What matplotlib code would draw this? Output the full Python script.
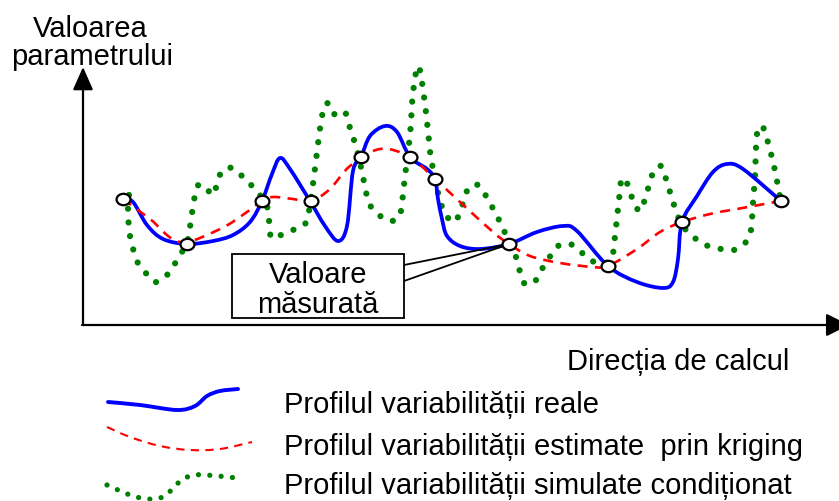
import numpy as np
import matplotlib
matplotlib.use("Agg")
import matplotlib.pyplot as plt
from matplotlib.path import Path
from matplotlib.patches import PathPatch, Rectangle
from matplotlib.markers import MarkerStyle
from matplotlib.transforms import Affine2D

plt.rcParams['font.family'] = ['Liberation Sans', 'DejaVu Sans']

# ---- data (diagram coordinates) ----
# measured values (white circles)
meas_x = [123, 187, 262, 311, 361, 410, 435, 509, 608, 682, 781]
meas_y = [200, 245, 202, 202, 158, 158, 180, 245, 267, 223, 202]

# real variability profile (blue)
real_x = [123, 133, 147, 163, 187, 213, 233, 250, 262, 272, 280, 290, 310, 325, 338,
          347, 353, 361, 370, 385, 397, 410, 427, 435, 438, 442, 447, 460, 480, 509,
          537, 563, 577, 608, 637, 663, 673, 678, 682, 697, 713, 727, 743, 781]
real_y = [200, 203, 226, 240, 245, 242, 236, 223, 202, 175, 159, 170, 202, 227, 242,
          227, 172, 158, 137, 127, 133, 158, 170, 180, 200, 220, 237, 247, 250, 245,
          233, 227, 232, 267, 283, 289, 283, 260, 223, 197, 173, 165, 170, 202]

# kriging estimate (red dashed)
krig_x = [123, 150, 180, 220, 247, 262, 273, 293, 311, 330, 350, 380, 410, 435, 460,
          493, 509, 530, 560, 593, 608, 637, 660, 682, 710, 737, 781]
krig_y = [200, 220, 243, 230, 213, 202, 198, 200, 202, 190, 167, 150, 158, 180, 203,
          233, 245, 257, 264, 268, 267, 250, 233, 223, 215, 210, 202]

# conditional simulation (green dotted)
sim_x = [129, 128, 130, 137, 145, 155, 166, 174, 182, 188, 192, 197, 204, 213, 217, 222,
         232, 243, 253, 262, 268, 271, 281, 293, 305, 309, 313, 318, 322, 327, 333, 344,
         348, 357, 363, 369, 378, 389, 399, 402, 405, 410, 413, 418, 423, 428, 431, 439,
         444, 452, 459, 468, 478, 486, 499, 510, 516, 524, 535, 542, 549, 558, 570, 581,
         592, 605, 612, 614, 617, 620, 622, 629, 633, 640, 645, 653, 661, 666, 674, 680,
         686, 696, 708, 721, 734, 746, 751, 753, 755, 757, 762, 767, 774, 779, 781]
sim_y = [196, 210, 237, 262, 273, 283, 277, 266, 253, 240, 214, 188, 187, 196, 185, 172,
         169, 178, 188, 199, 211, 238, 236, 231, 225, 212, 185, 145, 117, 104, 115, 112,
         123, 151, 178, 204, 215, 222, 218, 204, 177, 136, 94, 67, 90, 132, 159, 198,
         212, 223, 216, 190, 186, 197, 221, 245, 258, 284, 282, 270, 259, 247, 245, 253,
         262, 264, 259, 246, 219, 192, 179, 188, 202, 212, 200, 174, 167, 180, 206, 222,
         231, 240, 247, 250, 251, 243, 231, 204, 176, 135, 127, 140, 167, 193, 202]

# legend samples
leg_real_x = [108, 140, 177, 195, 207, 220, 238]
leg_real_y = [403, 406, 411, 407, 397, 392, 390]
leg_krig_x = [107, 130, 160, 190, 220, 252]
leg_krig_y = [428, 438, 447, 451, 450, 443]
leg_sim_x = [107, 118, 130, 141, 153, 165, 174, 183, 194, 206, 217, 229, 242]
leg_sim_y = [486, 491, 496, 499, 500, 497, 488, 480, 476, 476, 477, 478, 480]

legend_labels = ["Profilul variabilității reale",
                 "Profilul variabilității estimate  prin kriging",
                 "Profilul variabilității simulate condiționat"]
y_label = ["Valoarea", "parametrului"]
x_label = "Direcția de calcul"
callout = ["Valoare", "măsurată"]

BLUE = "#0000FF"
RED = "#FF0000"
GREEN = "#008000"


def smooth_path(xs, ys):
    pts = np.column_stack([xs, ys]).astype(float)
    n = len(pts)
    verts = [pts[0]]
    codes = [Path.MOVETO]
    for i in range(n - 1):
        p0 = pts[max(i - 1, 0)]
        p1 = pts[i]
        p2 = pts[i + 1]
        p3 = pts[min(i + 2, n - 1)]
        c1 = p1 + (p2 - p0) / 6.0
        c2 = p2 - (p3 - p1) / 6.0
        verts += [c1, c2, p2]
        codes += [Path.CURVE4] * 3
    return Path(verts, codes)


def curve(ax, xs, ys, color, lw, ls, z, cap='butt'):
    patch = PathPatch(smooth_path(xs, ys), fill=False, edgecolor=color,
                      linewidth=lw, linestyle=ls, zorder=z, capstyle=cap,
                      joinstyle='round')
    ax.add_patch(patch)


fig = plt.figure(figsize=(8.39, 5.02), dpi=100)
ax = fig.add_axes([0, 0, 1, 1])
ax.set_xlim(0, 839)
ax.set_ylim(502, 0)
ax.axis('off')

# axes arrows
ax.annotate('', xy=(83, 68), xytext=(83, 326),
            arrowprops=dict(arrowstyle='-|>,head_length=1.4,head_width=0.62',
                            lw=1.6, color='black', shrinkA=0, shrinkB=0))
ax.annotate('', xy=(849, 326), xytext=(82, 326),
            arrowprops=dict(arrowstyle='-|>,head_length=1.4,head_width=0.7',
                            lw=1.6, color='black', shrinkA=0, shrinkB=0),
            annotation_clip=False)

# curves
curve(ax, sim_x, sim_y, GREEN, 4.5, (0, (0.001, 2.2)), 2, cap='round')
curve(ax, real_x, real_y, BLUE, 2.7, '-', 3, cap='round')
curve(ax, krig_x, krig_y, RED, 1.9, (0, (3.8, 2.8)), 4)

# measured points (slightly oval circles)
oval = Path.unit_circle().transformed(Affine2D().scale(1.0, 0.82))
ax.plot(meas_x, meas_y, linestyle='none', marker=MarkerStyle(oval), markersize=10,
        markerfacecolor='white', markeredgecolor='black', markeredgewidth=1.6, zorder=6)

# callout box
ax.add_patch(Rectangle((232, 255), 172, 64, facecolor='white', edgecolor='black',
                       linewidth=1.3, zorder=7))
ax.plot([404, meas_x[7]], [266, meas_y[7]], color='black', lw=1.3, zorder=5)
ax.plot([404, meas_x[7]], [282, meas_y[7]], color='black', lw=1.3, zorder=5)
ax.text(318, 283, callout[0], fontsize=21, ha='center', va='baseline', zorder=8)
ax.text(318, 313, callout[1], fontsize=21, ha='center', va='baseline', zorder=8)

# axis labels
ax.text(90, 37, y_label[0], fontsize=21, ha='center', va='baseline')
ax.text(92, 65, y_label[1], fontsize=21, ha='center', va='baseline')
ax.text(567, 370, x_label, fontsize=21, ha='left', va='baseline')

# legend
curve(ax, leg_real_x, leg_real_y, BLUE, 2.8, '-', 3, cap='round')
curve(ax, leg_krig_x, leg_krig_y, RED, 1.5, (0, (4.0, 3.0)), 3)
curve(ax, leg_sim_x, leg_sim_y, GREEN, 3.8, (0, (0.001, 2.15)), 3, cap='round')
for lab, yb in zip(legend_labels, [413, 455, 494]):
    ax.text(284, yb, lab, fontsize=21, ha='left', va='baseline')

fig.savefig('out.png', dpi=100)
